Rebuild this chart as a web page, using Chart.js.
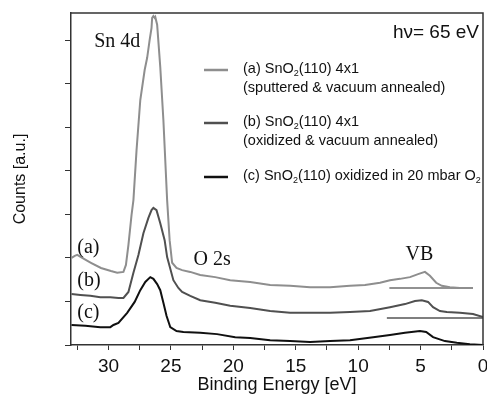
<!DOCTYPE html>
<html>
<head>
<meta charset="utf-8">
<script src="https://cdn.jsdelivr.net/npm/chart.js@4.4.1/dist/chart.umd.min.js"></script>
<style>
  html, body { margin: 0; padding: 0; background: #fff; }
  #wrap { width: 487px; height: 398px; position: relative; }
</style>
</head>
<body>
<div id="wrap"><canvas id="c" width="487" height="398"></canvas></div>
<script>
// ---- Data (binding energy in eV, counts in arbitrary units) ----
const xA = [32.96,32.7,32.5,32.1,31.4,30.6,29.8,29.3,28.8,28.6,28.4,28.15,28.0,27.75,27.45,27.1,26.9,26.7,26.55,26.5,26.4,26.3,26.25,26.1,25.85,25.6,25.3,25.1,24.9,24.55,24.1,23.45,22.65,21.45,20.25,18.65,17.05,15.45,13.85,12.25,10.65,9.45,8.25,7.45,6.65,5.85,5.2,4.65,4.25,3.75,3.3,2.65,1.85,0.8];
const yA = [2.00,2.05,2.07,2.00,1.89,1.77,1.70,1.66,1.68,1.84,2.30,2.99,3.33,4.48,5.63,6.32,6.60,7.01,7.29,7.52,7.56,7.52,7.54,7.36,6.39,5.17,3.33,2.41,1.89,1.77,1.72,1.68,1.61,1.56,1.49,1.45,1.38,1.36,1.33,1.33,1.36,1.38,1.43,1.49,1.52,1.56,1.63,1.68,1.59,1.43,1.36,1.33,1.31,1.31];

const xB = [32.96,32.25,31.45,30.65,29.85,29.2,28.8,28.4,28.0,27.6,27.2,26.8,26.55,26.4,26.15,25.85,25.5,25.3,24.8,24.4,24.1,23.45,22.65,21.45,20.25,18.65,17.05,15.45,13.85,12.25,10.65,9.05,7.45,6.25,5.45,4.9,4.4,4.0,3.45,2.9,1.85,0.8,0.0];
const yB = [1.17,1.15,1.13,1.10,1.10,1.08,1.08,1.22,1.66,2.07,2.57,2.92,3.10,3.15,3.10,2.80,2.41,2.02,1.49,1.31,1.22,1.13,1.03,0.97,0.90,0.85,0.78,0.74,0.74,0.74,0.76,0.78,0.87,0.94,1.01,1.03,0.99,0.87,0.78,0.76,0.74,0.71,0.64];

const xC = [32.96,31.85,30.65,29.85,29.6,29.2,28.5,27.9,27.45,27.05,26.65,26.4,26.1,25.85,25.6,25.35,25.05,24.55,24.0,22.65,21.3,19.85,18.65,17.05,15.45,13.85,12.25,10.65,8.8,7.45,6.25,5.05,4.55,4.0,3.05,2.1,1.05,0.0];
const yC = [0.46,0.44,0.41,0.41,0.46,0.51,0.74,0.99,1.26,1.45,1.56,1.52,1.40,1.26,0.97,0.67,0.41,0.32,0.30,0.28,0.25,0.18,0.16,0.11,0.09,0.07,0.09,0.11,0.18,0.23,0.28,0.32,0.30,0.18,0.09,0.05,0.02,0.00];

// background reference levels for the VB region
const refAX = [7.5, 0.8];
const refAY = [1.31, 1.31];
const refBX = [7.7, 0.0];
const refBY = [0.62, 0.62];

const xTickValues = [0,2.5,5,7.5,10,12.5,15,17.5,20,22.5,25,27.5,30,32.5];
const yTickValues = [0,1,2,3,4,5,6,7];

const seriesLabels = ['(a)', '(b)', '(c)'];

const pts = (xs, ys) => xs.map((x, i) => ({ x: x, y: ys[i] }));

const SANS = '"Liberation Sans", Arial, Helvetica, sans-serif';
const SERIF = '"Liberation Serif", "Times New Roman", serif';

const colA = '#8e8e8e', colB = '#505050', colC = '#101010';

const decorPlugin = {
  id: 'decor',
  afterDatasetsDraw(chart) {
    const ctx = chart.ctx;
    const a = chart.chartArea;
    const xs = chart.scales.x, ys = chart.scales.y;
    ctx.save();
    // frame top & right
    ctx.strokeStyle = '#333';
    ctx.lineWidth = 1.5;
    ctx.beginPath();
    ctx.moveTo(a.left, a.top);
    ctx.lineTo(a.right, a.top);
    ctx.lineTo(a.right, a.bottom);
    ctx.stroke();

    // peak annotations (serif)
    ctx.fillStyle = '#111';
    ctx.textBaseline = 'alphabetic';
    ctx.font = '20px ' + SERIF;
    ctx.textAlign = 'center';
    ctx.fillText('Sn 4d', xs.getPixelForValue(29.3), ys.getPixelForValue(6.85));
    ctx.fillText('O 2s', xs.getPixelForValue(21.7), ys.getPixelForValue(1.84));
    ctx.fillText('VB', xs.getPixelForValue(5.1), ys.getPixelForValue(1.95));
    ctx.textAlign = 'left';
    const lblY = [2.11, 1.36, 0.62];
    seriesLabels.forEach((s, i) => {
      ctx.fillText(s, xs.getPixelForValue(32.5), ys.getPixelForValue(lblY[i]));
    });

    // photon energy
    ctx.font = '19px ' + SANS;
    ctx.textAlign = 'right';
    ctx.fillText('h\u03BD= 65 eV', a.right - 4, a.top + 25);

    // legend
    const drawRich = (parts, x, y, size) => {
      let cx = x;
      parts.forEach(p => {
        if (p.sub) {
          ctx.font = Math.round(size * 0.62) + 'px ' + SANS;
          ctx.fillText(p.t, cx, y + size * 0.28);
        } else {
          ctx.font = size + 'px ' + SANS;
          ctx.fillText(p.t, cx, y);
        }
        cx += ctx.measureText(p.t).width;
      });
    };
    const legend = [
      { color: colA, y: 70, lines: [
        [{t:'(a) SnO'},{t:'2',sub:true},{t:'(110) 4x1'}],
        [{t:'(sputtered & vacuum annealed)'}] ] },
      { color: colB, y: 123, lines: [
        [{t:'(b) SnO'},{t:'2',sub:true},{t:'(110) 4x1'}],
        [{t:'(oxidized & vacuum annealed)'}] ] },
      { color: colC, y: 177, lines: [
        [{t:'(c) SnO'},{t:'2',sub:true},{t:'(110) oxidized in 20 mbar O'},{t:'2',sub:true}] ] }
    ];
    ctx.textAlign = 'left';
    ctx.textBaseline = 'middle';
    legend.forEach(item => {
      ctx.strokeStyle = item.color;
      ctx.lineWidth = 2.5;
      ctx.beginPath();
      ctx.moveTo(204, item.y);
      ctx.lineTo(228, item.y);
      ctx.stroke();
      ctx.fillStyle = '#111';
      item.lines.forEach((ln, j) => drawRich(ln, 243, item.y - 1 + j * 19, 14.5));
    });
    ctx.restore();
  }
};

const chart = new Chart(document.getElementById('c'), {
  type: 'line',
  data: {
    datasets: [
      { label: '(a)', data: pts(xA, yA), borderColor: colA, borderWidth: 2 },
      { label: '(b)', data: pts(xB, yB), borderColor: colB, borderWidth: 2 },
      { label: '(c)', data: pts(xC, yC), borderColor: colC, borderWidth: 2 },
      { label: 'ref a', data: pts(refAX, refAY), borderColor: '#6e6e6e', borderWidth: 1.5 },
      { label: 'ref b', data: pts(refBX, refBY), borderColor: '#555', borderWidth: 1.5 }
    ]
  },
  options: {
    responsive: false,
    animation: false,
    devicePixelRatio: 1,
    layout: { padding: { left: 0, right: 4, top: 13, bottom: 0 } },
    elements: { point: { radius: 0 }, line: { tension: 0, fill: false } },
    plugins: { legend: { display: false }, tooltip: { enabled: false } },
    scales: {
      x: {
        type: 'linear',
        reverse: true,
        min: 0,
        max: 33,
        afterBuildTicks: s => { s.ticks = xTickValues.map(v => ({ value: v })); },
        afterFit: s => { s.height = 53; },
        ticks: {
          autoSkip: false,
          maxRotation: 0,
          padding: 5,
          color: '#111',
          font: { family: SANS, size: 19 },
          callback: v => (v % 5 === 0 ? String(v) : '')
        },
        grid: { drawOnChartArea: false, drawTicks: true, tickLength: 5, color: '#333', lineWidth: 1 },
        border: { display: true, color: '#333', width: 1.5 },
        title: {
          display: true,
          text: 'Binding Energy [eV]',
          color: '#111',
          font: { family: SANS, size: 18 },
          padding: { top: 0, bottom: 2 }
        }
      },
      y: {
        type: 'linear',
        min: 0,
        max: 7.63,
        afterBuildTicks: s => { s.ticks = yTickValues.map(v => ({ value: v })); },
        afterFit: s => { s.width = 71; },
        ticks: { callback: () => '', padding: 0 },
        grid: { drawOnChartArea: false, drawTicks: true, tickLength: 6, color: '#333', lineWidth: 1 },
        border: { display: true, color: '#333', width: 1.5 },
        title: {
          display: true,
          text: 'Counts [a.u.]',
          color: '#111',
          font: { family: SANS, size: 16 },
          padding: { top: 11, bottom: 0 }
        }
      }
    }
  },
  plugins: [decorPlugin]
});
</script>
</body>
</html>
